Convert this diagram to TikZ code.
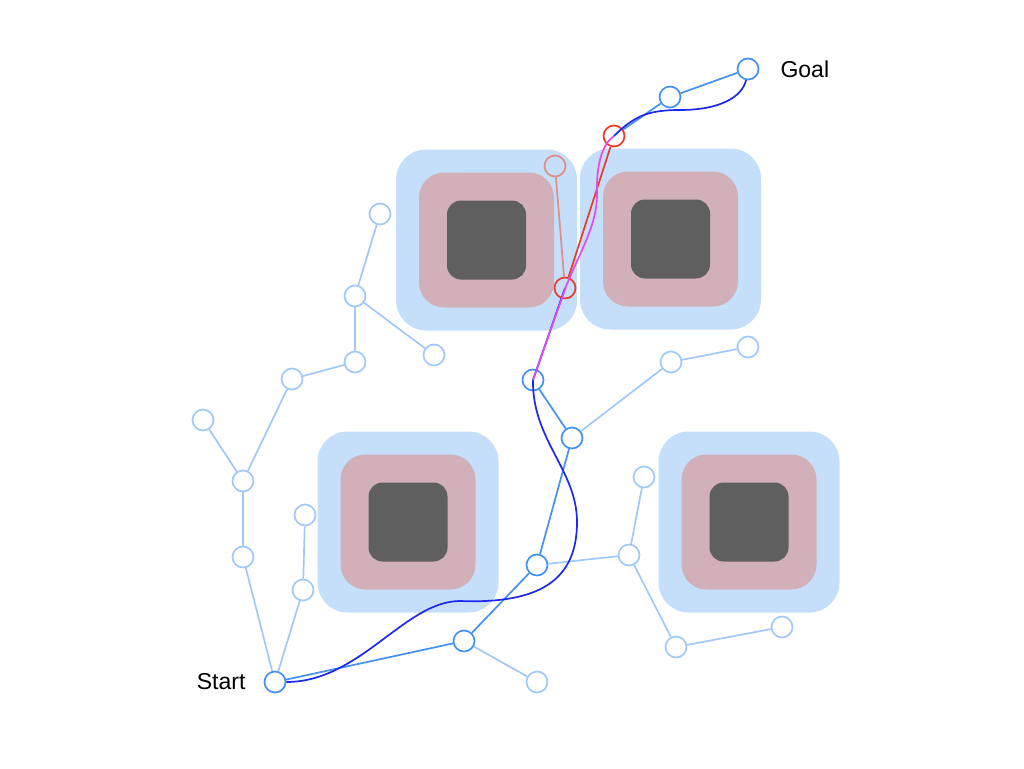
\documentclass[tikz,border=0pt]{standalone}
\usepackage{fontspec}
\setmainfont{Liberation Sans}
\usetikzlibrary{positioning}
\definecolor{lightblue}{RGB}{160,201,248}
\definecolor{treeblue}{RGB}{68,145,240}
\definecolor{zoneblue}{RGB}{197,223,250}
\definecolor{zonepink}{RGB}{210,176,185}
\definecolor{zonegray}{RGB}{95,95,95}
\definecolor{pathblue}{RGB}{28,40,238}
\definecolor{pathpink}{RGB}{226,74,240}
\definecolor{rewire}{RGB}{230,60,40}
\definecolor{oldred}{RGB}{225,140,135}
\begin{document}
\begin{tikzpicture}
            [x=1pt,y=-1pt,
             Node/.style={circle,draw=lightblue,line width=1.7pt,minimum size=21pt,inner sep=0pt},
             Tree/.style={Node,draw=treeblue},
             Red/.style={Node,draw=rewire},
             Old/.style={Node,draw=oldred},
             Edge/.style={draw=lightblue,line width=1.7pt},
             TreeEdge/.style={draw=treeblue,line width=1.7pt},
             Label/.style={font=\fontsize{23}{26}\selectfont,inner sep=0pt}]
            \useasboundingbox (0,0) rectangle (1024,768);
            % obstacles
            \fill[zoneblue,rounded corners=30pt] (396,149.5) rectangle (577,330.5);
            \fill[zonepink,rounded corners=25pt] (419,172.5) rectangle (554,307.5);
            \fill[zonegray,rounded corners=14pt] (447,200.5) rectangle (526,279.5);
            \fill[zoneblue,rounded corners=30pt] (580,148.5) rectangle (761,329.5);
            \fill[zonepink,rounded corners=25pt] (603,171.5) rectangle (738,306.5);
            \fill[zonegray,rounded corners=14pt] (631,199.5) rectangle (710,278.5);
            \fill[zoneblue,rounded corners=30pt] (317.5,431.5) rectangle (498.5,612.5);
            \fill[zonepink,rounded corners=25pt] (340.5,454.5) rectangle (475.5,589.5);
            \fill[zonegray,rounded corners=14pt] (368.5,482.5) rectangle (447.5,561.5);
            \fill[zoneblue,rounded corners=30pt] (658.5,431.5) rectangle (839.5,612.5);
            \fill[zonepink,rounded corners=25pt] (681.5,454.5) rectangle (816.5,589.5);
            \fill[zonegray,rounded corners=14pt] (709.5,482.5) rectangle (788.5,561.5);
            % tree nodes
            \node[Tree] (start) at (275,682){};
            \node[Tree] (goal) at (748,69){};
            \node[Tree] (t2) at (464,641){};
            \node[Tree] (t3) at (537,565){};
            \node[Tree] (t4) at (572,438){};
            \node[Tree] (t5) at (533,380){};
            \node[Tree] (t6) at (670,97){};
            \node[Red] (r1) at (565,288){};
            \node[Red] (r2) at (614,136){};
            \node[Old] (f1) at (555,166){};
            \node[Node] (l1) at (243,557){};
            \node[Node] (l2) at (243,481){};
            \node[Node] (l3) at (203,420){};
            \node[Node] (l4) at (292,379){};
            \node[Node] (l5) at (355,362){};
            \node[Node] (l6) at (355,296){};
            \node[Node] (l7) at (380,214){};
            \node[Node] (l8) at (434,355){};
            \node[Node] (l9) at (303,590){};
            \node[Node] (l10) at (305,515){};
            \node[Node] (l11) at (537,682){};
            \node[Node] (l12) at (629,555){};
            \node[Node] (l13) at (644,477){};
            \node[Node] (l14) at (676,647){};
            \node[Node] (l15) at (782,627){};
            \node[Node] (l16) at (671,362){};
            \node[Node] (l17) at (748,347){};
            \node[Label,left=18pt of start] (startlabel){Start};
            \node[Label,right=21pt of goal] (goallabel){Goal};
            % edges
            \draw [Edge](start) to (l1);
            \draw [Edge](l1) to (l2);
            \draw [Edge](l2) to (l3);
            \draw [Edge](l2) to (l4);
            \draw [Edge](l4) to (l5);
            \draw [Edge](l5) to (l6);
            \draw [Edge](l6) to (l7);
            \draw [Edge](l6) to (l8);
            \draw [Edge](start) to (l9);
            \draw [Edge](l9) to (l10);
            \draw [Edge](t2) to (l11);
            \draw [Edge](t3) to (l12);
            \draw [Edge](l12) to (l13);
            \draw [Edge](l12) to (l14);
            \draw [Edge](l14) to (l15);
            \draw [Edge](t4) to (l16);
            \draw [Edge](l16) to (l17);
            \draw [TreeEdge](start) to (t2);
            \draw [TreeEdge](t2) to (t3);
            \draw [TreeEdge](t3) to (t4);
            \draw [TreeEdge](t4) to (t5);
            \draw [TreeEdge](r2) to (t6);
            \draw [TreeEdge](t6) to (goal);
            \draw [oldred,line width=1.7pt](r1) to (f1);
            \draw [rewire,line width=1.7pt](r1) to (r2);
            % smoothed path
            \draw [pathblue,line width=1.7pt](start.east) .. controls (360,682) and (405,601) .. (460,601)
                .. controls (540,604) and (577,580) .. (577,522)
                .. controls (577,470) and (532,440) .. (t5.center);
            \draw [pathblue,line width=1.7pt](t5.center) to (r1.center);
            \draw [pathpink,line width=1.7pt](t5.center) .. controls (547,340) and (559,306) .. (567,284)
                .. controls (580,252) and (597,225) .. (597,195)
                .. controls (596,160) and (604,143) .. (r2.center);
            \draw [pathblue,line width=1.7pt](r2.center) .. controls (635,115) and (650,110) .. (680,110)
                .. controls (720,110) and (742,97) .. (goal.-100);
\end{tikzpicture}
\end{document}
